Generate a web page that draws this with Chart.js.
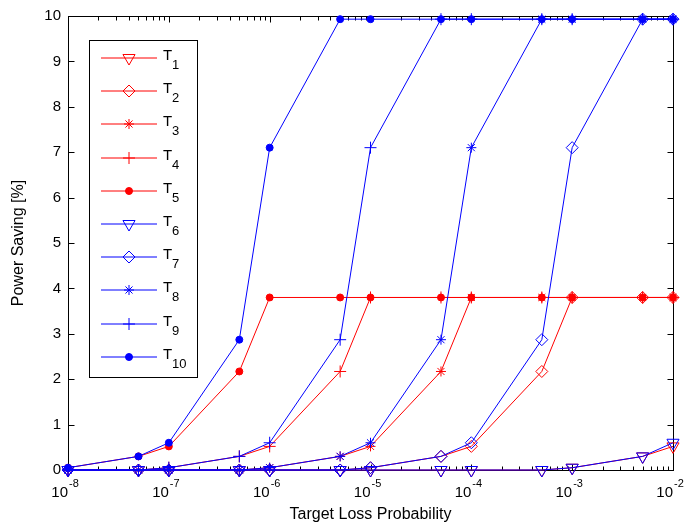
<!DOCTYPE html>
<html>
<head>
<meta charset="utf-8">
<script src="https://cdn.jsdelivr.net/npm/chart.js@4.4.1/dist/chart.umd.min.js"></script>
<style>
  html, body { margin: 0; padding: 0; background: #fff; }
  canvas { display: block; }
</style>
</head>
<body>
<canvas id="savingChart" width="684" height="527"></canvas>
<script>
// target loss probabilities (x positions of the measurements)
const lossProbabilities = [1e-8, 5e-8, 1e-7, 5e-7, 1e-6, 5e-6, 1e-5, 5e-5, 1e-4, 5e-4, 1e-3, 5e-3, 1e-2];
const decadeExponents = [-8, -7, -6, -5, -4, -3, -2];
const yTickValues = [0, 1, 2, 3, 4, 5, 6, 7, 8, 9, 10];
const seriesIndex = ['1', '2', '3', '4', '5', '6', '7', '8', '9', '10'];

// power saving [%]
const t1 = [0, 0, 0, 0, 0, 0, 0, 0, 0, 0, 0.05, 0.3, 0.52];
const t2 = [0, 0, 0, 0, 0, 0, 0.05, 0.3, 0.52, 2.17, 3.8, 3.8, 3.8];
const t3 = [0, 0, 0, 0, 0.05, 0.3, 0.52, 2.17, 3.8, 3.8, 3.8, 3.8, 3.8];
const t4 = [0, 0, 0.05, 0.3, 0.52, 2.17, 3.8, 3.8, 3.8, 3.8, 3.8, 3.8, 3.8];
const t5 = [0.05, 0.3, 0.52, 2.17, 3.8, 3.8, 3.8, 3.8, 3.8, 3.8, 3.8, 3.8, 3.8];
const t6 = [0, 0, 0, 0, 0, 0, 0, 0, 0, 0, 0.05, 0.3, 0.6];
const t7 = [0, 0, 0, 0, 0, 0, 0.05, 0.3, 0.6, 2.87, 7.1, 9.93, 9.93];
const t8 = [0, 0, 0, 0, 0.05, 0.3, 0.6, 2.87, 7.1, 9.93, 9.93, 9.93, 9.93];
const t9 = [0, 0, 0.05, 0.3, 0.6, 2.87, 7.1, 9.93, 9.93, 9.93, 9.93, 9.93, 9.93];
const t10 = [0.05, 0.3, 0.6, 2.87, 7.1, 9.93, 9.93, 9.93, 9.93, 9.93, 9.93, 9.93, 9.93];

const allSeries = [t1, t2, t3, t4, t5, t6, t7, t8, t9, t10];

const FONT = 'Arial, "Liberation Sans", Helvetica, sans-serif';
const RED = '#ff0000';
const BLUE = '#0000ff';
const seriesColor = i => (i < 5 ? RED : BLUE);

// marker look per series (MATLAB v, d, *, +, .)
const markerStyles = [
  { pointStyle: 'triangle', rotation: 180, radius: 7, filled: false },
  { pointStyle: 'rectRot', rotation: 0, radius: 6, filled: false },
  { pointStyle: 'star', rotation: 0, radius: 5, filled: false },
  { pointStyle: 'cross', rotation: 0, radius: 6, filled: false },
  { pointStyle: 'circle', rotation: 0, radius: 3.5, filled: true }
];

const datasets = allSeries.map((values, i) => {
  const m = markerStyles[i % 5];
  const color = seriesColor(i);
  return {
    label: 'T' + seriesIndex[i],
    data: lossProbabilities.map((p, k) => ({ x: p, y: values[k] })),
    borderColor: color,
    borderWidth: 1,
    pointStyle: m.pointStyle,
    pointRotation: m.rotation,
    pointRadius: m.radius,
    pointBorderWidth: 1,
    pointBorderColor: color,
    pointBackgroundColor: m.filled ? color : 'rgba(0,0,0,0)',
    tension: 0,
    clip: false,
    order: 10 - i
  };
});

const matlabAxes = {
  id: 'matlabAxes',
  beforeDatasetsDraw(chart) {
    const { ctx, chartArea: a, scales: { x, y } } = chart;
    const L = Math.round(a.left) + 0.5, R = Math.round(a.right) + 0.5;
    const T = Math.round(a.top) + 0.5, B = Math.round(a.bottom) + 0.5;
    ctx.save();
    ctx.strokeStyle = '#000';
    ctx.lineWidth = 1;
    ctx.strokeRect(L, T, R - L, B - T);
    ctx.beginPath();
    // log ticks on bottom and top, pointing inward
    decadeExponents.forEach((e, di) => {
      for (let m = 1; m <= 9; m++) {
        if (m > 1 && di === decadeExponents.length - 1) break;
        const px = Math.round(x.getPixelForValue(m * Math.pow(10, e))) + 0.5;
        const len = m === 1 ? 6 : 4;
        ctx.moveTo(px, B); ctx.lineTo(px, B - len);
        ctx.moveTo(px, T); ctx.lineTo(px, T + len);
      }
    });
    yTickValues.forEach(v => {
      const py = Math.round(y.getPixelForValue(v)) + 0.5;
      ctx.moveTo(L, py); ctx.lineTo(L + 6, py);
      ctx.moveTo(R, py); ctx.lineTo(R - 6, py);
    });
    ctx.stroke();
    ctx.restore();
  },
  afterDraw(chart) {
    const { ctx, chartArea: a, scales: { x } } = chart;
    ctx.save();
    ctx.fillStyle = '#000';
    // x tick labels 10^e
    decadeExponents.forEach(e => {
      const px = x.getPixelForValue(Math.pow(10, e));
      ctx.font = '15px ' + FONT;
      ctx.textAlign = 'right';
      ctx.textBaseline = 'alphabetic';
      ctx.fillText('10', px, 497);
      ctx.font = '11px ' + FONT;
      ctx.textAlign = 'left';
      ctx.fillText(String(e), px + 1, 487);
    });
    // axis titles
    ctx.font = '16px ' + FONT;
    ctx.textAlign = 'center';
    ctx.fillText('Target Loss Probability', (a.left + a.right) / 2, 519);
    ctx.save();
    ctx.translate(23, (a.top + a.bottom) / 2);
    ctx.rotate(-Math.PI / 2);
    ctx.textBaseline = 'alphabetic';
    ctx.fillText('Power Saving [%]', 0, 0);
    ctx.restore();

    // legend box
    const bx = 89.5, by = 40.5, bw = 108, bh = 337;
    ctx.fillStyle = '#fff';
    ctx.fillRect(bx, by, bw, bh);
    ctx.strokeStyle = '#000';
    ctx.lineWidth = 1;
    ctx.strokeRect(bx, by, bw, bh);
    datasets.forEach((ds, i) => {
      const m = markerStyles[i % 5];
      const color = seriesColor(i);
      const ly = Math.round(58 + i * 33.2);
      // sample line (soft, like the plotted lines)
      ctx.strokeStyle = color;
      ctx.lineWidth = 1;
      ctx.beginPath();
      ctx.moveTo(101, ly);
      ctx.lineTo(157, ly);
      ctx.stroke();
      ctx.fillStyle = m.filled ? color : 'rgba(0,0,0,0)';
      ctx.strokeStyle = color;
      Chart.helpers.drawPoint(ctx, {
        pointStyle: m.pointStyle,
        rotation: m.rotation,
        radius: m.radius,
        borderWidth: 1
      }, 129, ly);
      ctx.fillStyle = '#000';
      ctx.textAlign = 'left';
      ctx.textBaseline = 'alphabetic';
      ctx.font = '15px ' + FONT;
      ctx.fillText('T', 163, ly + 2);
      ctx.font = '13px ' + FONT;
      ctx.fillText(seriesIndex[i], 172, ly + 11);
    });
    ctx.restore();
  }
};

new Chart(document.getElementById('savingChart'), {
  type: 'line',
  data: { datasets: datasets },
  options: {
    responsive: false,
    animation: false,
    layout: { padding: { left: 0, right: 11, top: 14, bottom: 0 } },
    plugins: { legend: { display: false }, tooltip: { enabled: false } },
    scales: {
      x: {
        type: 'logarithmic',
        min: 1e-8,
        max: 1e-2,
        grid: { display: false, drawTicks: false },
        border: { display: false },
        ticks: { display: false },
        afterFit: scale => { scale.height = 57; }
      },
      y: {
        min: 0,
        max: 10,
        grid: { display: false, drawTicks: false },
        border: { display: false },
        ticks: {
          stepSize: 1,
          padding: 7,
          color: '#000',
          font: { family: FONT, size: 15 }
        },
        afterFit: scale => { scale.width = 68; }
      }
    }
  },
  plugins: [matlabAxes]
});
</script>
</body>
</html>
